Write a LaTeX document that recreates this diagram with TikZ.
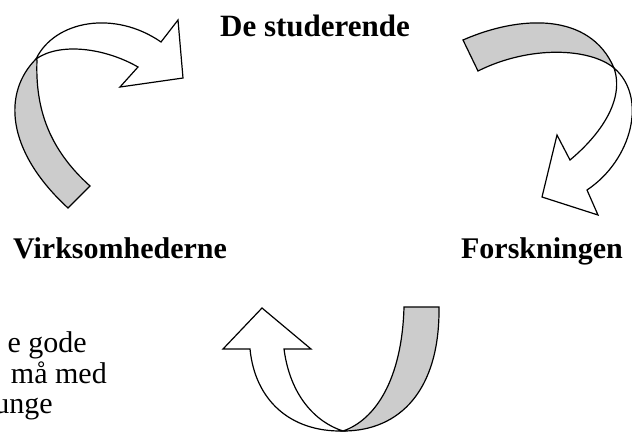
\documentclass[tikz,border=0pt]{standalone}
\usepackage{fontspec}
\setmainfont{Liberation Serif}
\definecolor{ribbon}{RGB}{204,204,204}
\begin{document}
\begin{tikzpicture}[x=1pt,y=-1pt,
  band/.style={draw=black,line width=1.2pt,line join=miter},
  front/.style={band,fill=white},
  back/.style={band,fill=ribbon},
  lab/.style={inner sep=0pt,font=\fontsize{30}{33}\selectfont\bfseries},
  body/.style={inner sep=0pt,font=\fontsize{30}{32}\selectfont}]
\useasboundingbox[fill=white] (0,0) rectangle (632,432);
% left arrow (Virksomhederne -> De studerende)
\draw[front] (36,59) .. controls (55,20) and (115,10) .. (161,42) -- (178,20) -- (183,78) -- (120,87) -- (138,67) .. controls (105,48) and (60,42) .. (36,59) -- cycle;
\draw[back] (36,59) .. controls (3,92) and (5,150) .. (68,208) -- (90,186) .. controls (50,150) and (35,110) .. (37,60) -- cycle;
% right arrow (De studerende -> Forskningen)
\draw[back] (463,40) .. controls (520,15) and (590,12) .. (614,68) .. controls (590,48) and (530,45) .. (478,71) -- cycle;
\draw[front] (614,68) .. controls (648,97) and (632,160) .. (587,190) -- (598,215) -- (542,197) -- (557,135) -- (570,160) .. controls (600,135) and (625,100) .. (614,68) -- cycle;
% bottom arrow (Forskningen -> Virksomhederne)
\draw[front] (343,431) .. controls (290,432) and (255,400) .. (250,349) -- (223,349) -- (262,308) -- (311,349) -- (284,349) .. controls (290,395) and (315,422) .. (343,431) -- cycle;
\draw[back] (343,431) .. controls (375,420) and (402,380) .. (404,307) -- (439,307) .. controls (440,390) and (400,431) .. (343,431) -- cycle;
% labels
\node[lab,anchor=base,font=\fontsize{31}{34}\selectfont\bfseries] (stud) at (315,36) {De studerende};
\node[lab,anchor=base] (virk) at (120,258) {Virksomhederne};
\node[lab,anchor=base] (forsk) at (542,258) {Forskningen};
% cut-off body text
\node[body,anchor=base east] (t1) at (87,352) {e gode};
\node[body,anchor=base east] (t2) at (107,383) {må med};
\node[body,anchor=base east] (t3) at (53,413) {unge};
\end{tikzpicture}
\end{document}
